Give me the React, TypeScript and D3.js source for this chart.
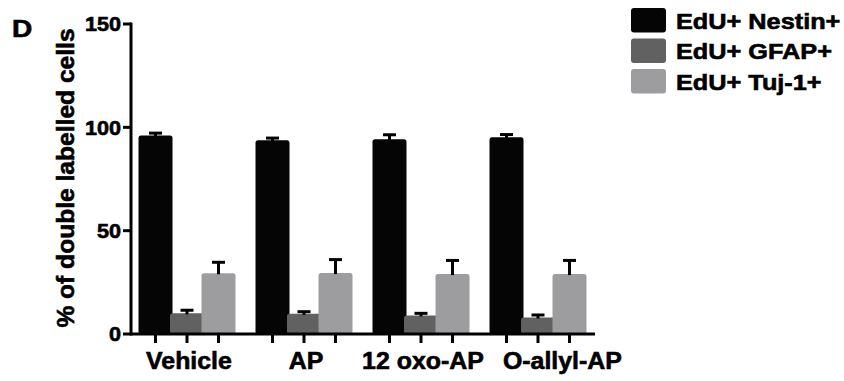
import React from "react";
import * as d3 from "d3";

const categories = ["Vehicle", "AP", "12 oxo-AP", "O-allyl-AP"];
const seriesNames = ["EdU+ Nestin+", "EdU+ GFAP+", "EdU+ Tuj-1+"];
const nestin = [96.0, 93.8, 94.2, 95.2];
const nestinErr = [1.2, 1.0, 2.2, 1.3];
const gfap = [10.0, 9.8, 9.0, 8.0];
const gfapErr = [1.5, 1.0, 1.0, 1.2];
const tuj = [29.4, 29.5, 29.0, 29.0];
const tujErr = [5.3, 6.5, 6.6, 6.6];
const yTicks = [0, 50, 100, 150];
const panelLabel = "D";
const yTitle = "% of double labelled cells";
const colors = ["#050505", "#616161", "#9d9d9f"];

const W = 844;
const H = 381;
const FONT = "'Liberation Sans', Arial, Helvetica, sans-serif";

const values = [nestin, gfap, tuj];
const errors = [nestinErr, gfapErr, tujErr];

function measure(text: string, size: number) {
  const c = document.createElement("canvas");
  const ctx = c.getContext("2d");
  if (!ctx) return text.length * size * 0.55;
  ctx.font = `bold ${size}px ${FONT}`;
  return ctx.measureText(text).width;
}

export default function App() {
  const y = d3.scaleLinear().domain([0, 150]).range([334, 24]);
  const x0 = d3.scaleBand<string>().domain(categories).range([128.5, 596.5]).padding(0);
  const x1 = d3.scaleBand<number>().domain([0, 1, 2]).range([-47.25, 47.25]).padding(0);
  const barW = 34;
  const axisLeft = 131;
  const axisRight = 595;
  const stroke = 3;

  // x labels with simple collision avoidance
  const xlSize = 23.5;
  const xlSx = 1.06;
  const minGap = 19;
  let prevRight = -Infinity;
  const xLabels = categories.map((c) => {
    const w = measure(c, xlSize) * xlSx;
    const center = (x0(c) as number) + x0.bandwidth() / 2 + 2;
    let left = center - w / 2;
    if (left < prevRight + minGap) left = prevRight + minGap;
    prevRight = left + w;
    return { c, left };
  });

  const textStroke = { stroke: "#000", strokeWidth: 0.6, paintOrder: "stroke" as const };

  return (
    <svg
      width={W}
      height={H}
      style={{ position: "absolute", left: 0, top: 0, background: "#fff" }}
      fontFamily={FONT}
      fontWeight="bold"
    >
      <rect x={0} y={0} width={W} height={H} fill="#fff" />
      <g style={textStroke}>
        <text fontSize={23} transform="translate(12,37) scale(1.22,1)">
          {panelLabel}
        </text>

        {/* Y title */}
        <text
          transform={`translate(73.5,178) scale(1,1.07) rotate(-90)`}
          textAnchor="middle"
          fontSize={23}
        >
          {yTitle}
        </text>
      </g>

      {/* bars */}
      {categories.map((c, i) => {
        const gx = (x0(c) as number) + x0.bandwidth() / 2;
        return (
          <g key={c}>
            {values.map((vals, s) => {
              const cx = gx + (x1(s) as number) + x1.bandwidth() / 2;
              const top = y(vals[i]);
              return (
                <rect
                  key={s}
                  x={cx - barW / 2}
                  y={top}
                  width={barW}
                  height={y(0) - top}
                  rx={2.5}
                  fill={colors[s]}
                />
              );
            })}
            {values.map((vals, s) => {
              const cx = gx + (x1(s) as number) + x1.bandwidth() / 2;
              const top = y(vals[i]);
              const et = y(vals[i] + errors[s][i]);
              return (
                <g key={"e" + s} stroke="#000" strokeWidth={stroke}>
                  <line x1={cx} x2={cx} y1={top + 1} y2={et} />
                  <line x1={cx - 6.5} x2={cx + 6.5} y1={et} y2={et} />
                </g>
              );
            })}
          </g>
        );
      })}

      {/* axes */}
      <line x1={axisLeft} x2={axisLeft} y1={y(150) - 1.5} y2={y(0) + 1.5} stroke="#000" strokeWidth={stroke} />
      <line x1={axisLeft} x2={axisRight} y1={y(0)} y2={y(0)} stroke="#000" strokeWidth={stroke} />
      {yTicks.map((t) => (
        <g key={t}>
          <line x1={123} x2={axisLeft} y1={y(t)} y2={y(t)} stroke="#000" strokeWidth={stroke} />
          <text
            transform={`translate(121,${y(t)}) scale(1.08,1)`}
            textAnchor="end"
            dy="0.36em"
            fontSize={20}
            style={textStroke}
          >
            {t}
          </text>
        </g>
      ))}
      {categories.map((c) => {
        const gx = (x0(c) as number) + x0.bandwidth() / 2;
        return [0, 1, 2].map((s) => {
          const cx = gx + (x1(s) as number) + x1.bandwidth() / 2;
          return (
            <line key={c + s} x1={cx} x2={cx} y1={y(0)} y2={y(0) + 9} stroke="#000" strokeWidth={stroke} />
          );
        });
      })}
      {xLabels.map((l) => (
        <text
          key={l.c}
          transform={`translate(${l.left},369) scale(${xlSx},1)`}
          fontSize={xlSize}
          style={textStroke}
        >
          {l.c}
        </text>
      ))}

      {/* legend */}
      {seriesNames.map((n, i) => {
        const ty = 8 + i * 30.5;
        return (
          <g key={n}>
            <rect x={631} y={ty} width={35} height={24.5} rx={3} fill={colors[i]} />
            <text
              transform={`translate(676,${ty + 20.5}) scale(1.15,1)`}
              fontSize={22}
              style={textStroke}
            >
              {n}
            </text>
          </g>
        );
      })}
    </svg>
  );
}
